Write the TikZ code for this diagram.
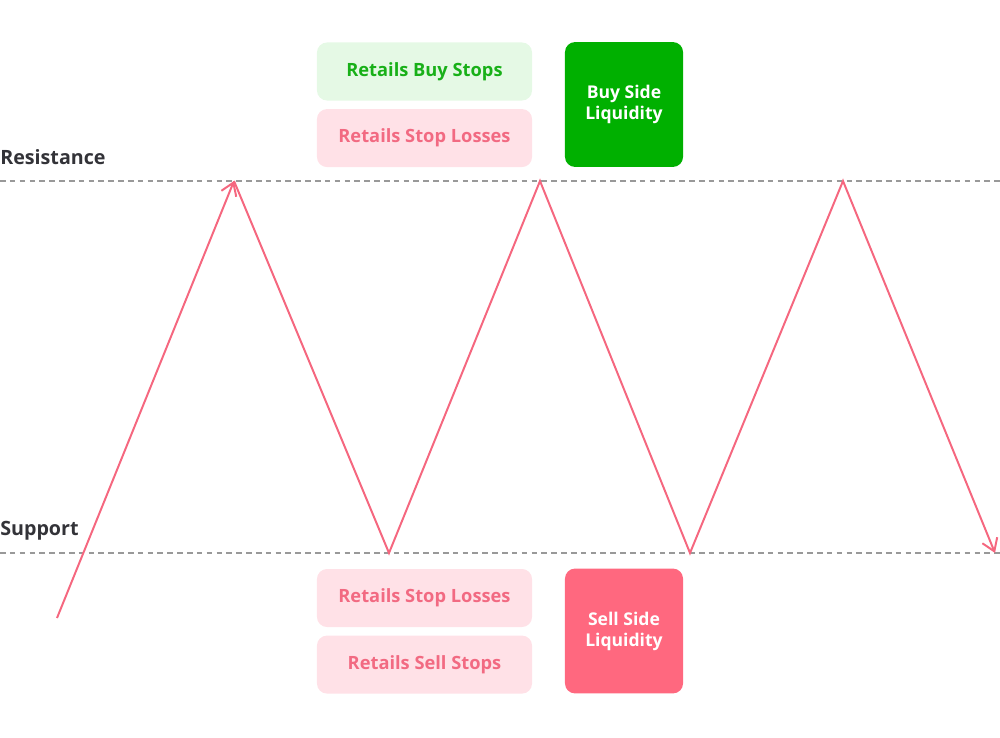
\documentclass[tikz,border=0pt]{standalone}
\usepackage{fontspec}
\setmainfont{Open Sans}
\usetikzlibrary{arrows.meta,positioning}
\definecolor{zig}{HTML}{F5677F}
\definecolor{pinkbg}{HTML}{FFE1E7}
\definecolor{pinktx}{HTML}{F26A82}
\definecolor{greenbg}{HTML}{E5F9E5}
\definecolor{greentx}{HTML}{18B018}
\definecolor{buyside}{HTML}{00B000}
\definecolor{sellside}{HTML}{FF687F}
\definecolor{lvl}{HTML}{333338}

\begin{document}
\begin{tikzpicture}[
  x=0.025cm, y=-0.025cm,
  >={Straight Barb[length=3mm,width=4mm]},
  node distance=0.2cm,
  tag/.style={rounded corners=2.5mm, minimum width=5.375cm, minimum height=1.45cm,
    font=\fontsize{13}{14}\selectfont\bfseries, inner sep=0pt},
  liq/.style={rounded corners=2.5mm, minimum width=2.95cm, minimum height=3.12cm,
    font=\fontsize{12.5}{15}\selectfont\bfseries, text=white, align=center, inner sep=0pt},
  level/.style={draw=gray!80, dashed, dash pattern=on 4pt off 3pt, line width=0.8pt},
  lvltext/.style={font=\fontsize{14}{15}\selectfont\bfseries, text=lvl, anchor=west, inner sep=0pt},
  move/.style={draw=zig, line width=1.4pt}
]
\useasboundingbox (0,0) rectangle (1000,737);

% Levels
\coordinate (R0) at (0,181);
\coordinate (R1) at (1000,181);
\coordinate (S0) at (0,553);
\coordinate (S1) at (1000,553);
\draw[level] (R0) -- (R1);
\draw[level] (S0) -- (S1);
\node[lvltext] (res) at (0,157) {Resistance};
\node[lvltext] (sup) at (0,531) {Support};

% Boxes above resistance
\node[tag, fill=greenbg, text=greentx] (buystops) at (424.5,71.5) {Retails Buy Stops};
\node[tag, fill=pinkbg, text=pinktx, below=0.2cm of buystops] (stoplossA) {Retails Stop Losses};
\node[liq, fill=buyside] (bsl) at (624,104.5) {Buy Side\\Liquidity};

% Boxes below support
\node[tag, fill=pinkbg, text=pinktx] (stoplossB) at (424.5,598) {Retails Stop Losses};
\node[tag, fill=pinkbg, text=pinktx, below=0.2cm of stoplossB] (sellstops) {Retails Sell Stops};
\node[liq, fill=sellside] (ssl) at (624,631) {Sell Side\\Liquidity};

% Price swings
\coordinate (p0) at (57,618);
\coordinate (p1) at (234,181);
\coordinate (p2) at (389,553);
\coordinate (p3) at (540,181);
\coordinate (p4) at (690,553);
\coordinate (p5) at (843,181);
\coordinate (p6) at (995,553);
\draw[move, ->] (p0) -- (p1);
\draw[move, ->, line join=miter] (p1) -- (p2) -- (p3) -- (p4) -- (p5) -- (p6);

\end{tikzpicture}
\end{document}
